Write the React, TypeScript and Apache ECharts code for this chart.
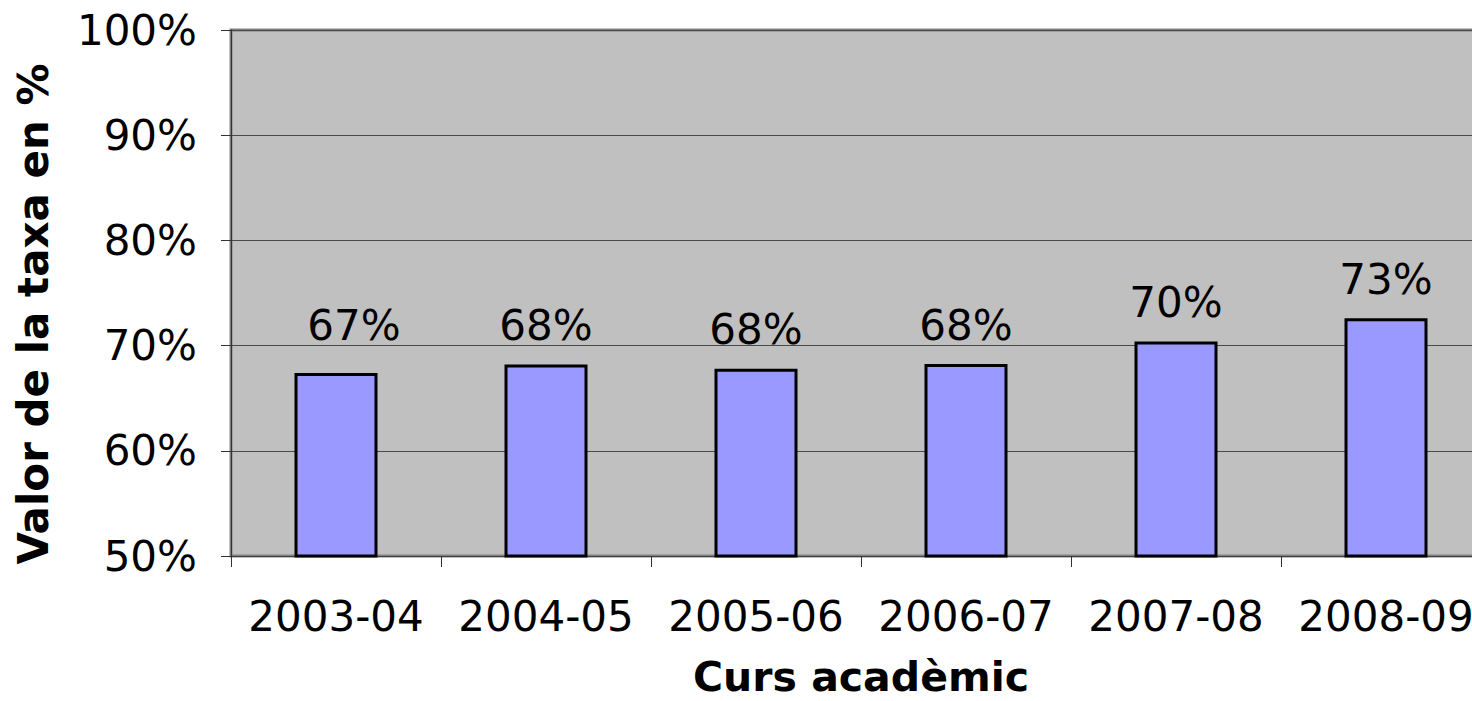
import React, { useEffect, useRef } from "react";
import * as echarts from "echarts";

const categories = ["2003-04", "2004-05", "2005-06", "2006-07", "2007-08", "2008-09"];
const values = [67.4, 68.2, 67.8, 68.25, 70.4, 72.6];
const yTicks = [50, 60, 70, 80, 90, 100];
const xTitle = "Curs acadèmic";
const yTitle = "Valor de la taxa en %";

const FONT = "DejaVu Sans";

export default function App() {
  const ref = useRef<HTMLDivElement>(null);
  useEffect(() => {
    if (!ref.current) return;
    const chart = echarts.init(ref.current, null, { renderer: "svg" });
    const data = values.map((v, i) =>
      i === 0 ? { value: v, label: { offset: [18, -8] } } : { value: v }
    );
    chart.setOption({
      animation: false,
      backgroundColor: "#ffffff",
      textStyle: { fontFamily: FONT },
      grid: {
        left: 231,
        top: 30,
        width: 1260,
        height: 526,
        show: true,
        backgroundColor: "#C0C0C0",
        borderColor: "#808080",
        borderWidth: 3,
        containLabel: false,
        outerBoundsMode: "none",
      },
      xAxis: {
        type: "category",
        data: categories,
        boundaryGap: true,
        name: xTitle,
        nameLocation: "middle",
        nameGap: 104,
        nameTextStyle: {
          fontFamily: FONT,
          fontSize: 41,
          lineHeight: 34,
          fontWeight: "bold",
          color: "#000",
        },
        axisLine: { show: true, lineStyle: { color: "#404040", width: 1 } },
        axisTick: { show: true, length: 11, interval: 0, lineStyle: { color: "#333", width: 1 } },
        axisLabel: { fontFamily: FONT, fontSize: 42, color: "#000", margin: 39, interval: 0 },
        splitLine: { show: false },
      },
      yAxis: {
        type: "value",
        min: yTicks[0],
        max: yTicks[yTicks.length - 1],
        interval: 10,
        name: yTitle,
        nameLocation: "middle",
        nameRotate: 90,
        nameGap: 177,
        nameTextStyle: {
          fontFamily: FONT,
          fontSize: 42,
          fontWeight: "bold",
          color: "#000",
          padding: [0, 42, 0, 0],
        },
        axisLine: { show: true, lineStyle: { color: "#333", width: 1 } },
        axisTick: { show: true, length: 10, lineStyle: { color: "#333", width: 1 } },
        axisLabel: {
          fontFamily: FONT,
          fontSize: 42,
          color: "#000",
          margin: 34,
          formatter: (v: number) => `${v}%`,
        },
        splitLine: { show: true, lineStyle: { color: "#4a4a4a", width: 1 } },
      },
      series: [
        {
          type: "bar",
          data,
          barWidth: 83,
          itemStyle: { color: "#9999FF", borderColor: "#000", borderWidth: 3 },
          label: {
            show: true,
            position: "top",
            distance: 18,
            fontFamily: FONT,
            fontSize: 42,
            color: "#000",
            formatter: (p: any) => `${Math.round(p.value)}%`,
          },
        },
      ],
    });
    return () => chart.dispose();
  }, []);
  return (
    <div
      style={{
        position: "absolute",
        left: 0,
        top: 0,
        width: 1472,
        height: 701,
        overflow: "hidden",
        background: "#fff",
      }}
    >
      <div ref={ref} style={{ width: 1520, height: 701 }} />
    </div>
  );
}
